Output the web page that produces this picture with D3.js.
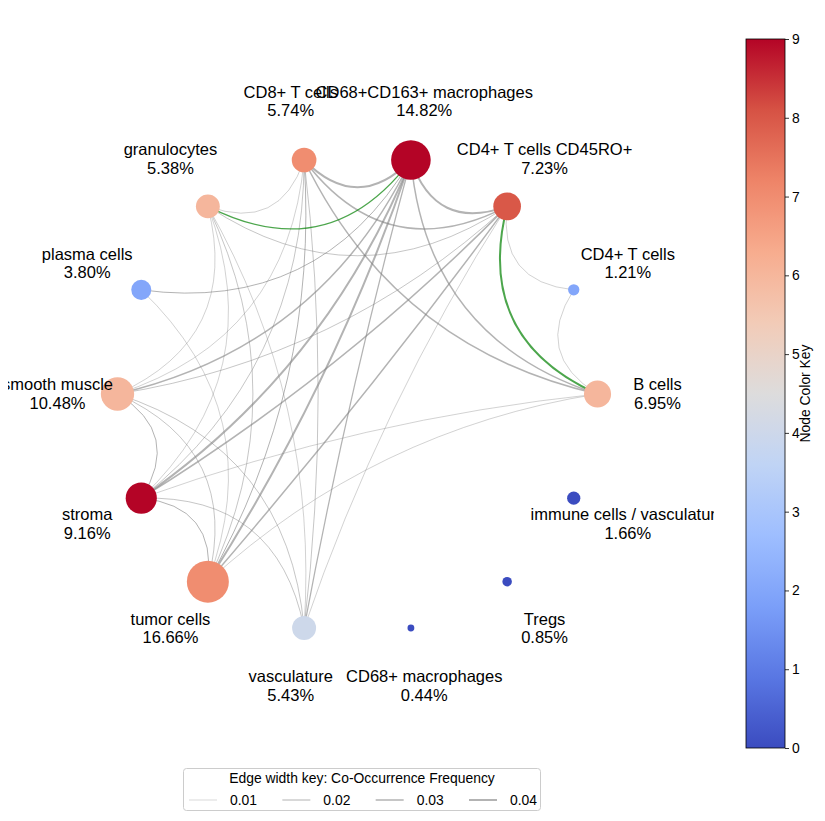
<!DOCTYPE html>
<html>
<head>
<meta charset="utf-8">
<script src="https://cdn.jsdelivr.net/npm/d3@7"></script>
<style>
  body { margin: 0; background: #fff; }
  text { font-family: "Liberation Sans", Arial, sans-serif; fill: #000; }
</style>
</head>
<body>
<div id="chart"></div>
<script>
// cell types in circular order (starting at 3 o'clock, going counter-clockwise)
var cellTypes = ["B cells", "CD4+ T cells", "CD4+ T cells CD45RO+", "CD68+CD163+ macrophages",
  "CD8+ T cells", "granulocytes", "plasma cells", "smooth muscle", "stroma", "tumor cells",
  "vasculature", "CD68+ macrophages", "Tregs", "immune cells / vasculature"];
var cellPercent = [6.95, 1.21, 7.23, 14.82, 5.74, 5.38, 3.80, 10.48, 9.16, 16.66, 5.43, 0.44, 0.85, 1.66];
var colorKey = [6, 2, 8, 9, 7, 6, 2, 6, 9, 7, 4, 0, 0, 0];
var colorTicks = [0, 1, 2, 3, 4, 5, 6, 7, 8, 9];
var edgeWidthKey = [0.01, 0.02, 0.03, 0.04];

// co-occurrence edges: [from, to, frequency]
var edges = [
  ["CD68+CD163+ macrophages", "CD8+ T cells", 0.04],
  ["CD68+CD163+ macrophages", "CD4+ T cells CD45RO+", 0.04],
  ["CD68+CD163+ macrophages", "B cells", 0.03],
  ["CD68+CD163+ macrophages", "plasma cells", 0.02],
  ["CD68+CD163+ macrophages", "smooth muscle", 0.03],
  ["CD68+CD163+ macrophages", "stroma", 0.04],
  ["CD68+CD163+ macrophages", "tumor cells", 0.04],
  ["CD68+CD163+ macrophages", "vasculature", 0.025],
  ["CD4+ T cells CD45RO+", "CD4+ T cells", 0.012],
  ["CD4+ T cells CD45RO+", "CD8+ T cells", 0.03],
  ["CD4+ T cells CD45RO+", "granulocytes", 0.015],
  ["CD4+ T cells CD45RO+", "smooth muscle", 0.015],
  ["CD4+ T cells CD45RO+", "stroma", 0.03],
  ["CD4+ T cells CD45RO+", "tumor cells", 0.03],
  ["CD4+ T cells CD45RO+", "vasculature", 0.012],
  ["CD8+ T cells", "granulocytes", 0.012],
  ["CD8+ T cells", "B cells", 0.03],
  ["CD8+ T cells", "smooth muscle", 0.012],
  ["CD8+ T cells", "stroma", 0.015],
  ["CD8+ T cells", "tumor cells", 0.02],
  ["CD8+ T cells", "vasculature", 0.015],
  ["granulocytes", "smooth muscle", 0.012],
  ["granulocytes", "stroma", 0.012],
  ["granulocytes", "tumor cells", 0.015],
  ["granulocytes", "vasculature", 0.012],
  ["plasma cells", "tumor cells", 0.012],
  ["CD4+ T cells", "B cells", 0.012],
  ["B cells", "stroma", 0.012],
  ["B cells", "tumor cells", 0.012],
  ["smooth muscle", "stroma", 0.02],
  ["smooth muscle", "tumor cells", 0.015],
  ["smooth muscle", "vasculature", 0.015],
  ["stroma", "tumor cells", 0.02],
  ["stroma", "vasculature", 0.015]
];
// highlighted (green) edges
var greenEdges = [
  ["CD68+CD163+ macrophages", "granulocytes", 0.025],
  ["CD4+ T cells CD45RO+", "B cells", 0.04]
];

var W = 825, H = 821;
var cx = 357.5, cy = 394, R = 240;
var n = cellTypes.length;

var svg = d3.select("#chart").append("svg")
    .attr("width", W)
    .attr("height", H);

var x = d3.scaleLinear().domain([-1, 1]).range([cx - R, cx + R]);
var y = d3.scaleLinear().domain([-1, 1]).range([cy + R, cy - R]);
var angle = d3.scaleLinear().domain([0, n]).range([0, 2 * Math.PI]);
var size = d3.scaleSqrt().domain([0, 16.66]).range([0, 21]);
var lineWidth = d3.scaleLinear().domain([0, 0.04]).range([0, 2]);

var coolwarm = ["#3b4cc0", "#5977e3", "#7b9ff9", "#9ebeff", "#c0d4f5", "#dddcdc",
  "#f2cbb7", "#f7ac8e", "#ee8468", "#d65244", "#b40426"];
var color = d3.scaleLinear()
    .domain(d3.range(11).map(function(i) { return i * 0.9; }))
    .range(coolwarm);

var nodes = cellTypes.map(function(name, i) {
  return { name: name, i: i, pct: cellPercent[i], key: colorKey[i],
           ux: Math.cos(angle(i)), uy: Math.sin(angle(i)) };
});
var byName = new Map(nodes.map(function(d) { return [d.name, d]; }));

function edgePath(e) {
  var a = byName.get(e[0]), b = byName.get(e[1]);
  var x0 = x(a.ux), y0 = y(a.uy), x2 = x(b.ux), y2 = y(b.uy);
  var mx = (x0 + x2) / 2, my = (y0 + y2) / 2;
  var dx = x2 - x0, dy = y2 - y0, L = Math.hypot(dx, dy);
  var step = Math.abs(a.i - b.i);
  step = Math.min(step, n - step);
  var rad = Math.max(0.02, 0.6 - 0.09 * step);
  var nx = -dy / L, ny = dx / L;
  // always bend towards the centre of the ring
  if ((cx - mx) * nx + (cy - my) * ny < 0) { nx = -nx; ny = -ny; }
  var p = d3.path();
  p.moveTo(x0, y0);
  p.quadraticCurveTo(mx + rad * L * nx, my + rad * L * ny, x2, y2);
  return p.toString();
}

var g = svg.append("g");

g.selectAll(".edge")
  .data(edges)
  .enter().append("path")
    .attr("class", "edge")
    .attr("d", edgePath)
    .attr("fill", "none")
    .attr("stroke", "#808080")
    .attr("stroke-opacity", 0.6)
    .attr("stroke-width", function(d) { return lineWidth(d[2]); });

g.selectAll(".gedge")
  .data(greenEdges)
  .enter().append("path")
    .attr("class", "gedge")
    .attr("d", edgePath)
    .attr("fill", "none")
    .attr("stroke", "#008000")
    .attr("stroke-opacity", 0.7)
    .attr("stroke-width", function(d) { return lineWidth(d[2]); });

g.selectAll(".node")
  .data(nodes)
  .enter().append("circle")
    .attr("class", "node")
    .attr("cx", function(d) { return x(d.ux); })
    .attr("cy", function(d) { return y(d.uy); })
    .attr("r", function(d) { return size(d.pct); })
    .attr("fill", function(d) { return color(d.key); });

// labels are clipped to the plot area like the original
svg.append("clipPath").attr("id", "plotclip")
  .append("rect").attr("x", 8).attr("y", 0).attr("width", 706).attr("height", H);

var labels = g.append("g").attr("clip-path", "url(#plotclip)")
  .selectAll(".label")
  .data(nodes)
  .enter().append("text")
    .attr("class", "label")
    .attr("text-anchor", "middle")
    .attr("font-size", "16.5px");

labels.append("tspan")
    .attr("x", function(d) { return x(1.25 * d.ux); })
    .attr("y", function(d) { return y(1.25 * d.uy) - 4; })
    .text(function(d) { return d.name; });
labels.append("tspan")
    .attr("x", function(d) { return x(1.25 * d.ux); })
    .attr("y", function(d) { return y(1.25 * d.uy) + 14.5; })
    .text(function(d) { return d.pct.toFixed(2) + "%"; });

// colour bar
var cbX = 746, cbW = 39;
var cb = d3.scaleLinear().domain([0, 9]).range([748, 39]);

var grad = svg.append("defs").append("linearGradient")
    .attr("id", "cwgrad")
    .attr("x1", 0).attr("y1", 0).attr("x2", 0).attr("y2", 1);
grad.selectAll("stop")
  .data(d3.range(0, 1.0001, 0.05))
  .enter().append("stop")
    .attr("offset", function(t) { return t; })
    .attr("stop-color", function(t) { return color(9 * (1 - t)); });

svg.append("rect")
    .attr("x", cbX).attr("y", cb(9))
    .attr("width", cbW).attr("height", cb(0) - cb(9))
    .attr("fill", "url(#cwgrad)")
    .attr("stroke", "#000")
    .attr("stroke-width", 0.8);

var cbAxis = svg.append("g")
    .attr("transform", "translate(" + (cbX + cbW) + ",0)")
    .call(d3.axisRight(cb).tickValues(colorTicks).tickSize(4).tickPadding(3));
cbAxis.select(".domain").remove();
cbAxis.selectAll("line").attr("stroke", "#000").attr("stroke-width", 0.8);
cbAxis.selectAll("text")
    .attr("font-size", "13.9px")
    .attr("font-family", "Liberation Sans, Arial, sans-serif")
    .attr("fill", "#000");

svg.append("text")
    .attr("transform", "translate(810," + ((cb(0) + cb(9)) / 2) + ") rotate(-90)")
    .attr("text-anchor", "middle")
    .attr("font-size", "13.9px")
    .text("Node Color Key");

// edge width legend
var legend = svg.append("g");
legend.append("rect")
    .attr("x", 183.5).attr("y", 768.5)
    .attr("width", 357).attr("height", 42)
    .attr("rx", 3)
    .attr("fill", "#fff")
    .attr("stroke", "#cccccc")
    .attr("stroke-width", 1);
legend.append("text")
    .attr("x", 362).attr("y", 783)
    .attr("text-anchor", "middle")
    .attr("font-size", "13.9px")
    .text("Edge width key: Co-Occurrence Frequency");

var legendX = d3.scalePoint().domain(edgeWidthKey).range([189, 469]);
var item = legend.selectAll(".item")
  .data(edgeWidthKey)
  .enter().append("g")
    .attr("class", "item")
    .attr("transform", function(d) { return "translate(" + legendX(d) + ",800)"; });
item.append("line")
    .attr("x1", 0).attr("x2", 28)
    .attr("stroke", "#808080")
    .attr("stroke-opacity", 0.6)
    .attr("stroke-width", function(d) { return lineWidth(d); });
item.append("text")
    .attr("x", 41).attr("y", 5)
    .attr("font-size", "13.9px")
    .text(function(d) { return d.toFixed(2); });
</script>
</body>
</html>
